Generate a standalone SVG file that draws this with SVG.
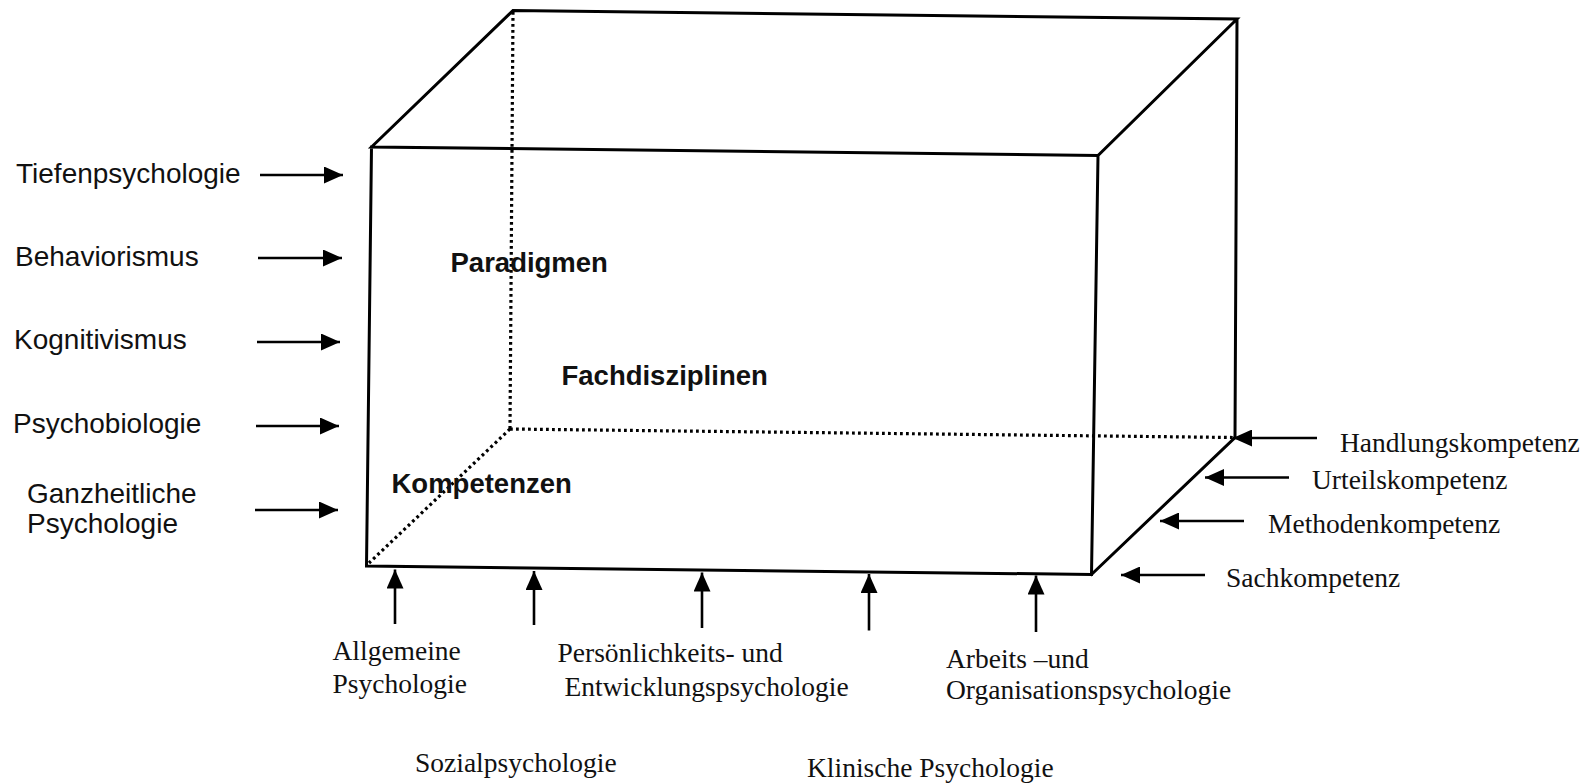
<svg xmlns="http://www.w3.org/2000/svg" width="1595" height="784" viewBox="0 0 1595 784">
<defs>
<style>
.edge{stroke:#000;stroke-width:3;fill:none;stroke-linejoin:miter;stroke-linecap:square}
.dot{stroke:#000;stroke-width:3.2;fill:none;stroke-dasharray:2.8 3.2}
.arr{stroke:#000;stroke-width:2.6;fill:none;marker-end:url(#ah)}
.sans{font-family:"Liberation Sans",Arial,sans-serif;font-size:28px;fill:#111}
.bold{font-family:"Liberation Sans",Arial,sans-serif;font-size:27.5px;font-weight:bold;fill:#111}
.serif{font-family:"Liberation Serif","Times New Roman",serif;font-size:27.5px;fill:#111}
</style>
<marker id="ah" markerUnits="userSpaceOnUse" markerWidth="20" markerHeight="17" refX="19" refY="8.5" orient="auto">
<path d="M0,0 L19,8.5 L0,17 z" fill="#000"/>
</marker>
</defs>
<rect width="1595" height="784" fill="#fff"/>

<g id="cube">
<path class="dot" d="M513,12 L510,429 M510,429 L369,563 M510,429 L1233,437.5"/>
<path class="edge" d="M371.5,147 L513,10.5 L1237,19 L1098,155.5 Z M371.5,147 L366.5,566 L1091.5,574.5 L1098,155.5 M1237,19 L1235,437.5 L1091.5,574.5"/>
</g>

<g id="inner-labels">
<text id="paradigmen" class="bold" x="450.5" y="271.5">Paradigmen</text>
<text id="fachdisziplinen" class="bold" x="561.5" y="385">Fachdisziplinen</text>
<text id="kompetenzen" class="bold" x="391.5" y="493">Kompetenzen</text>
</g>

<g id="left-labels">
<text id="tiefen" class="sans" x="16" y="183">Tiefenpsychologie</text>
<text id="behav" class="sans" x="15" y="265.5">Behaviorismus</text>
<text id="kogn" class="sans" x="14" y="348.5">Kognitivismus</text>
<text id="psychobio" class="sans" x="13" y="432.5">Psychobiologie</text>
<text id="ganzh" class="sans"><tspan x="27" y="502.5">Ganzheitliche</tspan><tspan x="27" y="533">Psychologie</tspan></text>
</g>

<g id="right-labels">
<text id="handlung" class="serif" x="1340" y="452">Handlungskompetenz</text>
<text id="urteil" class="serif" x="1312" y="489">Urteilskompetenz</text>
<text id="methoden" class="serif" x="1268" y="533">Methodenkompetenz</text>
<text id="sach" class="serif" x="1226" y="587">Sachkompetenz</text>
</g>

<g id="bottom-labels">
<text id="allgemeine" class="serif"><tspan x="332.5" y="660">Allgemeine</tspan><tspan x="332.5" y="693">Psychologie</tspan></text>
<text id="persoenlichkeit" class="serif"><tspan x="557.5" y="662">Persönlichkeits- und</tspan><tspan x="564.5" y="696">Entwicklungspsychologie</tspan></text>
<text id="arbeit" class="serif"><tspan x="946" y="668">Arbeits –und</tspan><tspan x="946" y="699">Organisationspsychologie</tspan></text>
<text id="sozial" class="serif" x="415" y="772">Sozialpsychologie</text>
<text id="klinisch" class="serif" x="807" y="777">Klinische Psychologie</text>
</g>

<g id="connectors">
<line class="arr" x1="260" y1="175" x2="343" y2="175"/>
<line class="arr" x1="258" y1="258" x2="342" y2="258"/>
<line class="arr" x1="257" y1="342" x2="340" y2="342"/>
<line class="arr" x1="256" y1="426" x2="339" y2="426"/>
<line class="arr" x1="255" y1="510" x2="338" y2="510"/>
<line class="arr" x1="1317" y1="438" x2="1233" y2="438"/>
<line class="arr" x1="1289" y1="477.5" x2="1205" y2="477.5"/>
<line class="arr" x1="1244" y1="521" x2="1160" y2="521"/>
<line class="arr" x1="1205" y1="575" x2="1121" y2="575"/>
<line class="arr" x1="395" y1="624" x2="395" y2="569.5"/>
<line class="arr" x1="534" y1="625" x2="534" y2="571"/>
<line class="arr" x1="702" y1="628" x2="702" y2="572.5"/>
<line class="arr" x1="869" y1="630.5" x2="869" y2="574"/>
<line class="arr" x1="1036" y1="632" x2="1036" y2="575.5"/>
</g>
</svg>
